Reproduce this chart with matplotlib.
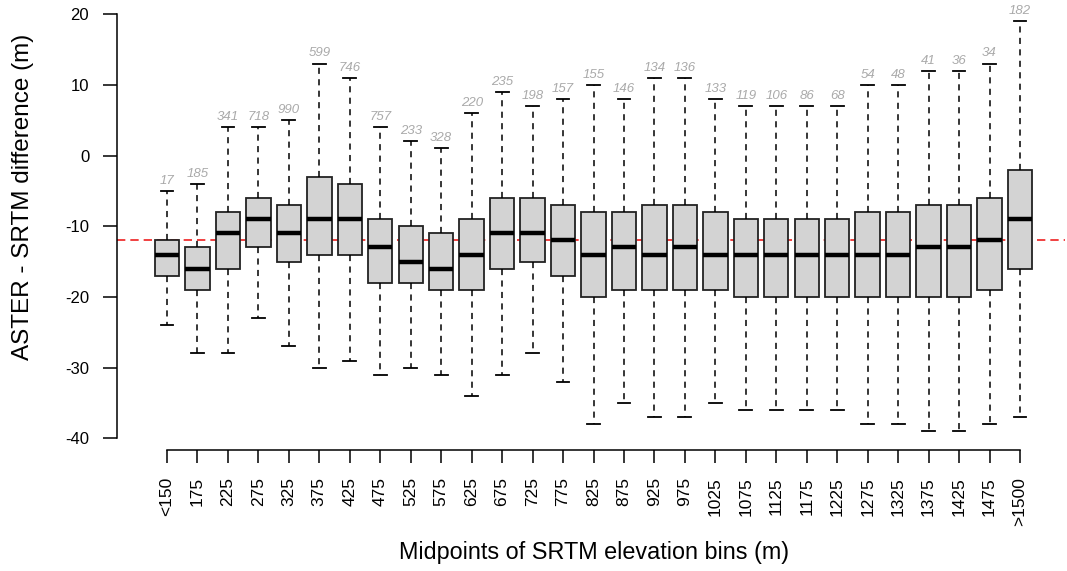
import matplotlib
matplotlib.use("Agg")
import matplotlib.pyplot as plt

plt.rcParams['font.family'] = ['Liberation Sans', 'DejaVu Sans']
plt.rcParams['axes.unicode_minus'] = False

labels = ["<150", "175", "225", "275", "325", "375", "425", "475", "525", "575",
          "625", "675", "725", "775", "825", "875", "925", "975", "1025", "1075",
          "1125", "1175", "1225", "1275", "1325", "1375", "1425", "1475", ">1500"]
counts = [17, 185, 341, 718, 990, 599, 746, 757, 233, 328,
          220, 235, 198, 157, 155, 146, 134, 136, 133, 119,
          106, 86, 68, 54, 48, 41, 36, 34, 182]
whisker_low = [-24, -28, -28, -23, -27, -30, -29, -31, -30, -31,
               -34, -31, -28, -32, -38, -35, -37, -37, -35, -36,
               -36, -36, -36, -38, -38, -39, -39, -38, -37]
q1 = [-17, -19, -16, -13, -15, -14, -14, -18, -18, -19,
      -19, -16, -15, -17, -20, -19, -19, -19, -19, -20,
      -20, -20, -20, -20, -20, -20, -20, -19, -16]
medians = [-14, -16, -11, -9, -11, -9, -9, -13, -15, -16,
           -14, -11, -11, -12, -14, -13, -14, -13, -14, -14,
           -14, -14, -14, -14, -14, -13, -13, -12, -9]
q3 = [-12, -13, -8, -6, -7, -3, -4, -9, -10, -11,
      -9, -6, -6, -7, -8, -8, -7, -7, -8, -9,
      -9, -9, -9, -8, -8, -7, -7, -6, -2]
whisker_high = [-5, -4, 4, 4, 5, 13, 11, 4, 2, 1,
                6, 9, 7, 8, 10, 8, 11, 11, 8, 7,
                7, 7, 7, 10, 10, 12, 12, 13, 19]
mean_diff = -12

W, H = 1067, 571
fig = plt.figure(figsize=(W / 100, H / 100), dpi=100)
ax = fig.add_axes([117 / W, 1 - 450 / H, (1065 - 117) / W, (450 - 5) / H])

stats = []
for i in range(len(labels)):
    stats.append(dict(whislo=whisker_low[i], q1=q1[i], med=medians[i],
                      q3=q3[i], whishi=whisker_high[i], fliers=[], label=labels[i]))

positions = list(range(1, len(labels) + 1))
ax.bxp(stats, positions=positions, widths=0.8, capwidths=0.42,
       patch_artist=True, showfliers=False,
       boxprops=dict(facecolor='#D3D3D3', edgecolor='#222222', linewidth=1.3),
       medianprops=dict(color='black', linewidth=3.2, solid_capstyle='butt'),
       whiskerprops=dict(color='black', linewidth=1.1, linestyle=(0, (4, 3.5))),
       capprops=dict(color='black', linewidth=1.3))

for p, c, hi in zip(positions, counts, whisker_high):
    ax.annotate(str(c), (p, hi), xytext=(0, 3), textcoords='offset points',
                ha='center', va='bottom', fontsize=9.5, style='italic', color='#AAAAAA')

ax.axhline(mean_diff, color='#EE2020', linestyle=(0, (5, 3)), linewidth=1.2, zorder=0)

ax.set_xlim(1 - 50 / 30.464, 29 + 45 / 30.464)
ax.set_ylim(-41.65, 21.29)

for s in ['top', 'right']:
    ax.spines[s].set_visible(False)
ax.spines['left'].set_bounds(-40, 20)
ax.spines['bottom'].set_bounds(1, 29)
ax.spines['left'].set_linewidth(1.1)
ax.spines['bottom'].set_linewidth(1.1)

ax.set_yticks([-40, -30, -20, -10, 0, 10, 20])
ax.set_xticks(positions)
ax.set_xticklabels(labels, rotation=90)
ax.tick_params(axis='y', length=10, width=1.1, pad=10, labelsize=12)
ax.tick_params(axis='x', length=9.5, width=1.1, pad=10, labelsize=12.5)

fig.text(23 / W, 1 - 197 / H, "ASTER - SRTM difference (m)", rotation=90,
         ha='center', va='center', fontsize=17.5)
fig.text(594 / W, 1 - 553 / H, "Midpoints of SRTM elevation bins (m)",
         ha='center', va='center', fontsize=16.8)

fig.savefig("out.png", dpi=100)
